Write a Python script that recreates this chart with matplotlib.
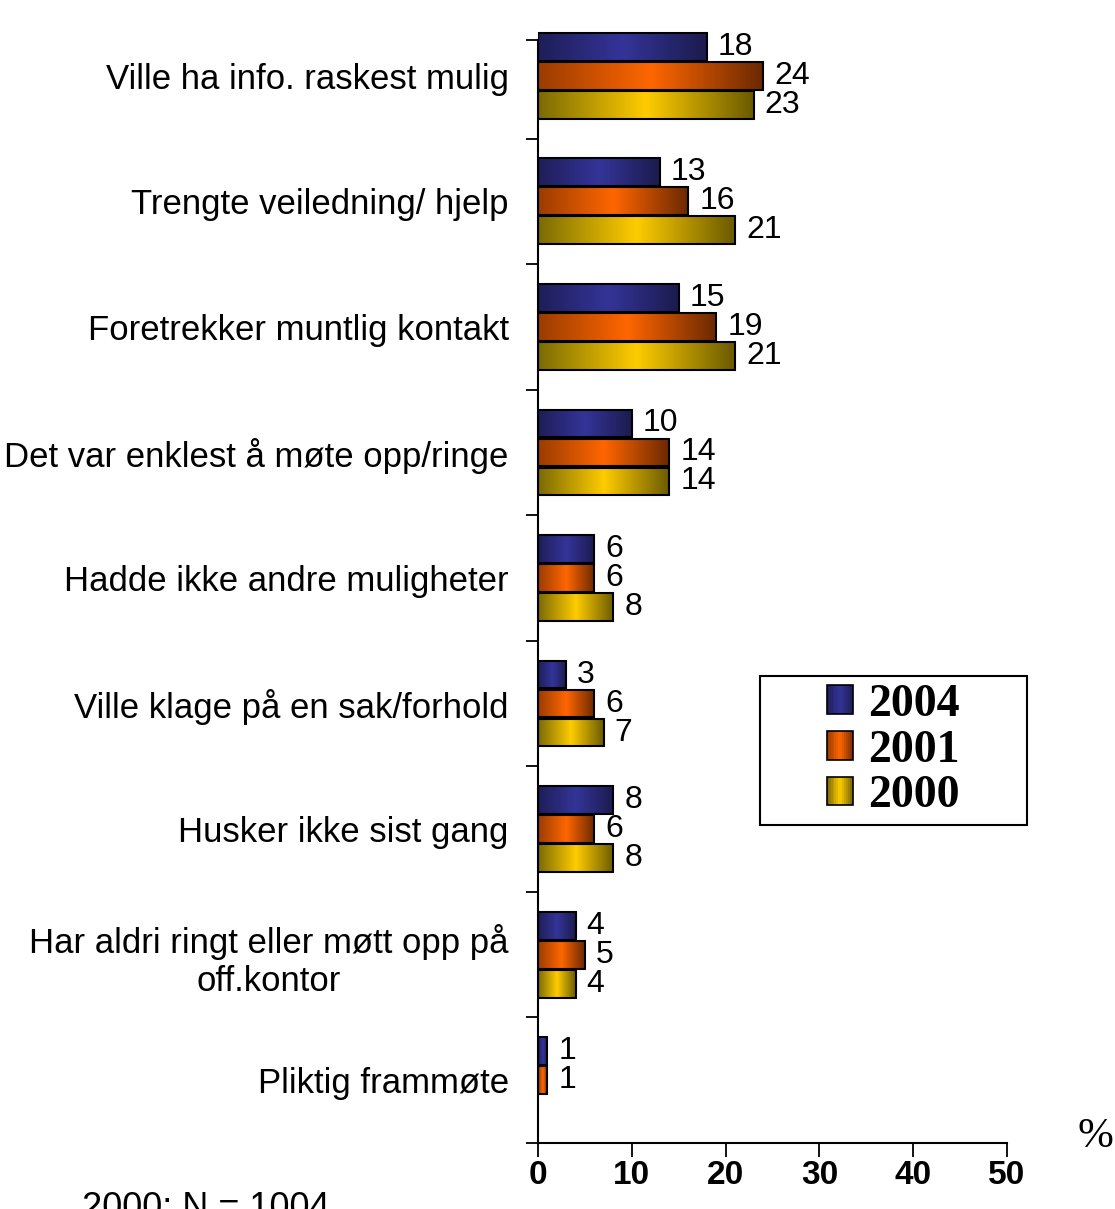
import matplotlib
matplotlib.use("Agg")
import matplotlib.pyplot as plt
import numpy as np
from matplotlib.colors import LinearSegmentedColormap
from matplotlib.patches import Rectangle, Patch
from matplotlib.legend_handler import HandlerBase

plt.rcParams['font.family'] = ['Liberation Sans', 'DejaVu Sans']

categories = ["Ville ha info. raskest mulig",
              "Trengte veiledning/ hjelp",
              "Foretrekker muntlig kontakt",
              "Det var enklest å møte opp/ringe",
              "Hadde ikke andre muligheter",
              "Ville klage på en sak/forhold",
              "Husker ikke sist gang",
              "Har aldri ringt eller møtt opp på\noff.kontor",
              "Pliktig frammøte"]
years = ["2004", "2001", "2000"]
v2004 = [18, 13, 15, 10, 6, 3, 8, 4, 1]
v2001 = [24, 16, 19, 14, 6, 6, 6, 5, 1]
v2000 = [23, 21, 21, 14, 8, 7, 8, 4, None]
series = [v2004, v2001, v2000]

# dark edge -> bright middle -> dark edge
grad_colors = [["#1e1e58", "#343499", "#1b1b4e"],
               ["#9a3c00", "#ff6600", "#6a2800"],
               ["#7a6a05", "#ffcc00", "#6a5a00"]]
cmaps = [LinearSegmentedColormap.from_list("g%d" % i, c) for i, c in enumerate(grad_colors)]

W, H = 1115, 1209
fig = plt.figure(figsize=(W / 100, H / 100), dpi=100)
ax = fig.add_axes([538 / W, 1 - 1143 / H, (1007 - 538) / W, (1143 - 13) / H])

y = np.arange(len(categories))
bh = 0.222
pitch = 0.231
gradient = np.linspace(0, 1, 256).reshape(1, -1)

for k, vals in enumerate(series):
    pos = y + (k - 1) * pitch
    for yi, v in zip(pos, vals):
        if v is None:
            continue
        bar = ax.barh(yi, v, height=bh, facecolor='none', edgecolor='black',
                      linewidth=1.5, zorder=3)[0]
        im = ax.imshow(gradient, extent=[0, v, yi + bh / 2, yi - bh / 2],
                       aspect='auto', cmap=cmaps[k], zorder=2)
        im.set_clip_path(bar)
        ax.annotate(str(v), (v, yi), xytext=(8, 0), textcoords='offset points',
                    ha='left', va='center', fontsize=23)

ax.set_xlim(0, 50)
ax.set_ylim(len(categories) - 0.5, -0.5)
ax.set_aspect('auto')

for s in ['top', 'right']:
    ax.spines[s].set_visible(False)
top_val = -0.5 + (40 - 13) / ((1143 - 13) / len(categories))
ax.spines['left'].set_bounds(len(categories) - 0.5, top_val)
ax.spines['left'].set_linewidth(1.5)
ax.spines['bottom'].set_linewidth(1.5)

ax.set_yticks([top_val] + list(np.arange(len(categories)) + 0.5))
ax.set_yticklabels([])
ax.set_yticks(y, minor=True)
ax.set_yticklabels(categories, minor=True, fontsize=25)
ax.tick_params(axis='y', which='major', direction='out', length=9, width=1.3)
ax.tick_params(axis='y', which='minor', length=0, pad=21)
for lab in ax.get_yticklabels(minor=True):
    lab.set_multialignment('center')

ax.set_xticks([0, 10, 20, 30, 40, 50])
ax.tick_params(axis='x', direction='out', length=10, width=1.3, pad=2)
for lab in ax.get_xticklabels():
    lab.set_fontsize(24)
    lab.set_fontweight('bold')


class GradientHandler(HandlerBase):
    def __init__(self, cmap):
        super().__init__()
        self.cmap = cmap

    def create_artists(self, legend, orig_handle, xdescent, ydescent,
                       width, height, fontsize, trans):
        n = 14
        arts = []
        for i in range(n):
            arts.append(Rectangle((-xdescent + i * width / n, -ydescent), width / n, height,
                                  facecolor=self.cmap((i + 0.5) / n), edgecolor='none',
                                  transform=trans))
        arts.append(Rectangle((-xdescent, -ydescent), width, height, fill=False,
                              edgecolor='black', linewidth=1.2, transform=trans))
        return arts


handles = [Patch(label=yr) for yr in years]
hmap = {h: GradientHandler(cm) for h, cm in zip(handles, cmaps)}
fig.legend(handles=handles, handler_map=hmap, loc='center',
           bbox_to_anchor=((760 + 1027) / 2 / W, 1 - (676 + 825) / 2 / H),
           frameon=False, prop={'family': 'Liberation Serif', 'weight': 'bold', 'size': 33},
           handlelength=0.58, handleheight=0.58, handletextpad=0.33, labelspacing=0.08,
           borderpad=0)
fig.patches.append(Rectangle((760 / W, 1 - 825 / H), (1027 - 760) / W, (825 - 676) / H,
                             transform=fig.transFigure, fill=False, edgecolor='black',
                             linewidth=1.5))

fig.text(1095 / W, 1 - 1137 / H, '%', ha='center', va='center',
         family='Liberation Serif', fontsize=31)
fig.text(82 / W, 1 - 1191 / H, '2000: N = 1004', ha='left', va='top', fontsize=26)

fig.savefig('out.png', dpi=100)
